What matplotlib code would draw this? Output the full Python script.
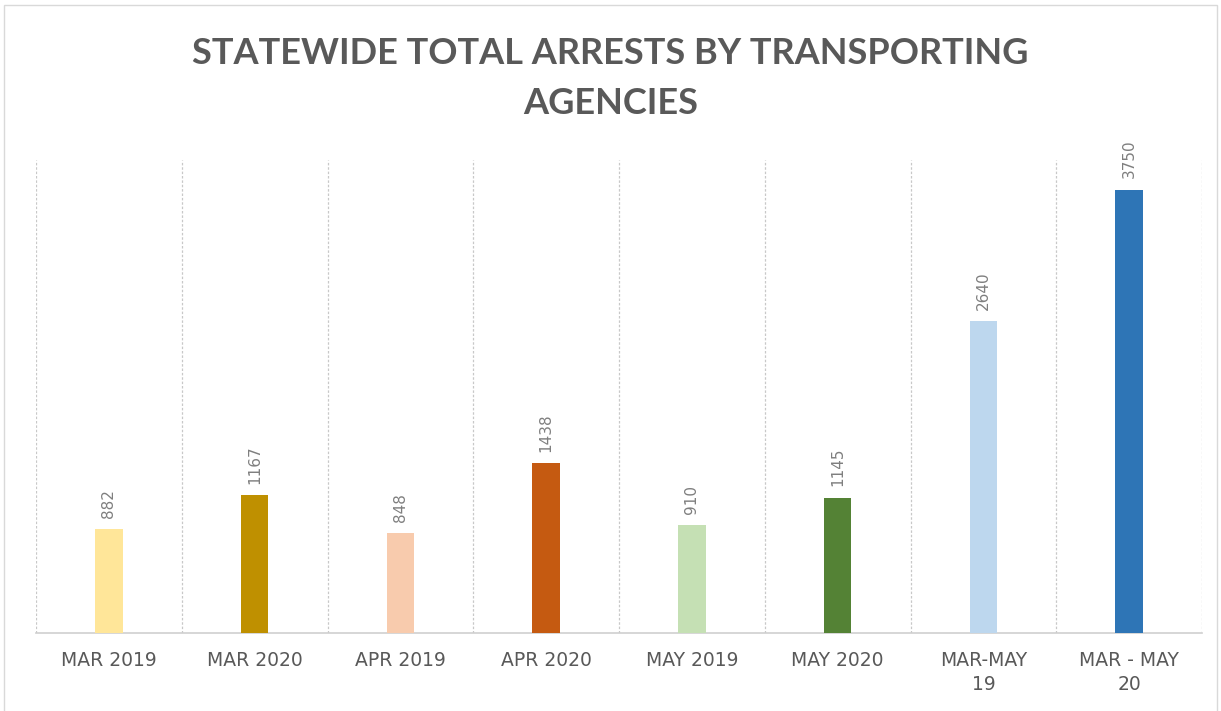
import matplotlib
matplotlib.use("Agg")
import matplotlib.pyplot as plt
import numpy as np
from matplotlib.patches import Rectangle

categories = ["MAR 2019", "MAR 2020", "APR 2019", "APR 2020",
              "MAY 2019", "MAY 2020", "MAR-MAY\n19", "MAR - MAY\n20"]
arrests = [882, 1167, 848, 1438, 910, 1145, 2640, 3750]
bar_colors = ["#FFE699", "#BF9000", "#F8CBAD", "#C55A11",
              "#C5E0B4", "#548235", "#BDD7EE", "#2E75B6"]

TEXT = "#595959"

fig = plt.figure(figsize=(12.21, 7.11), dpi=100)
fig.patch.set_facecolor("white")
# thin outer frame like the chart area border
fig.patches.append(Rectangle((4 / 1221, -0.01), 1213 / 1221, 1.0 - 5 / 711 + 0.01,
                             transform=fig.transFigure, fill=False,
                             edgecolor="#D9D9D9", linewidth=1.0))

ax = fig.add_axes([36 / 1221, 78 / 711, 1166 / 1221, 473 / 711])
x = np.arange(len(categories))
bars = ax.bar(x, arrests, width=0.19, color=bar_colors, zorder=3)

ax.set_xlim(-0.5, len(categories) - 0.5)
ax.set_ylim(0, 4000)
ax.set_yticks([])

# category separators
ax.set_xticks(np.arange(len(categories) + 1) - 0.5, minor=True)
ax.grid(which="minor", axis="x", color="#C8C8C8", linestyle=(0, (2, 1.5)), linewidth=0.9)
ax.tick_params(which="both", length=0)

ax.set_xticks(x)
ax.set_xticklabels(categories, fontsize=13.5, color=TEXT, family="DejaVu Sans",
                   linespacing=1.35)
ax.tick_params(axis="x", pad=13)

for s in ["top", "left", "right"]:
    ax.spines[s].set_visible(False)
ax.spines["bottom"].set_color("#CFCFCF")
ax.spines["bottom"].set_linewidth(1.2)

for b, v in zip(bars, arrests):
    ax.annotate(f"{v}", (b.get_x() + b.get_width() / 2, v),
                xytext=(0, 8), textcoords="offset points",
                rotation=90, ha="center", va="bottom",
                fontsize=11, color="#7F7F7F")

fig.text(0.5, 1 - 53 / 711, "STATEWIDE TOTAL ARRESTS BY TRANSPORTING",
         ha="center", va="center", fontsize=26, fontweight="bold",
         color=TEXT, family="Lato")
fig.text(0.5, 1 - 104 / 711, "AGENCIES",
         ha="center", va="center", fontsize=26, fontweight="bold",
         color=TEXT, family="Lato")

fig.savefig("out.png", dpi=100, facecolor="white")
